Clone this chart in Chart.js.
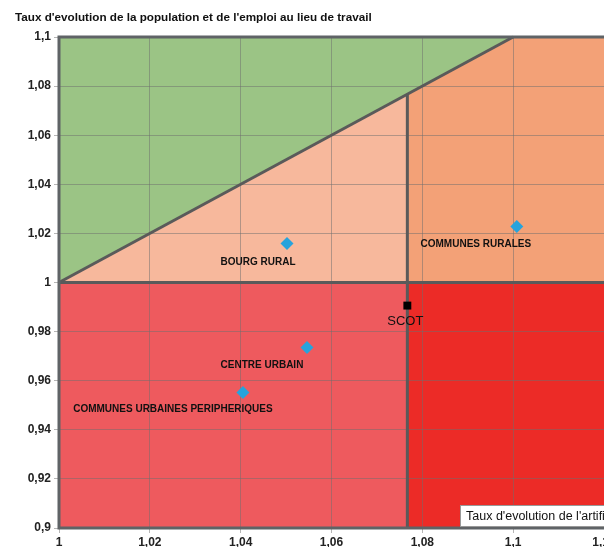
<!DOCTYPE html>
<html>
<head>
<meta charset="utf-8">
<script src="https://cdn.jsdelivr.net/npm/chart.js@4.4.0/dist/chart.umd.min.js"></script>
<style>
html, body { margin: 0; padding: 0; overflow: hidden; background: #fff; }
#wrap { width: 660px; height: 547px; position: relative; }
</style>
</head>
<body>
<div id="wrap"><canvas id="chart"></canvas></div>
<script>
// territoires et valeurs
const territoires = ["BOURG RURAL", "COMMUNES RURALES", "CENTRE URBAIN", "COMMUNES URBAINES PERIPHERIQUES"];
const tauxArtif = [1.0502, 1.1008, 1.0546, 1.0405];
const tauxPopEmploi = [1.0159, 1.0228, 0.9735, 0.9552];

const scotNom = ["SCOT"];
const scotArtif = [1.0767];
const scotPopEmploi = [0.9906];

const xTicks = [1, 1.02, 1.04, 1.06, 1.08, 1.1, 1.12];
const yTicks = [0.9, 0.92, 0.94, 0.96, 0.98, 1, 1.02, 1.04, 1.06, 1.08, 1.1];

const titreY = "Taux d'evolution de la population et de l'emploi au lieu de travail";
const titreX = "Taux d'evolution de l'artificialisation";

function fmt(v) {
    return String(Number(v.toFixed(2))).replace('.', ',');
}

const xMin = xTicks[0], xMax = xTicks[xTicks.length - 1];
const yMin = yTicks[0], yMax = yTicks[yTicks.length - 1];
const sx = scotArtif[0];

// zones de fond (en coordonnées de données)
const zones = [
    { color: '#9bc485', pts: [[1, 1], [1, yMax], [yMax, yMax]] },
    { color: '#f7b89c', pts: [[1, 1], [sx, sx], [sx, 1]] },
    { color: '#f3a177', pts: [[sx, 1], [sx, sx], [yMax, yMax], [xMax, yMax], [xMax, 1]] },
    { color: '#ee5a5e', pts: [[xMin, yMin], [xMin, 1], [sx, 1], [sx, yMin]] },
    { color: '#ec2b27', pts: [[sx, yMin], [sx, 1], [xMax, 1], [xMax, yMin]] }
];
const separations = [
    [[xMin, 1], [xMax, 1]],
    [[1, 1], [yMax, yMax]],
    [[sx, yMin], [sx, sx]]
];

const fondPlugin = {
    id: 'fond',
    beforeDraw(chart) {
        const { ctx, chartArea, scales: { x, y } } = chart;
        ctx.save();
        ctx.beginPath();
        ctx.rect(chartArea.left, chartArea.top, chartArea.width, chartArea.height);
        ctx.clip();
        zones.forEach(z => {
            ctx.beginPath();
            z.pts.forEach((p, i) => {
                const px = x.getPixelForValue(p[0]), py = y.getPixelForValue(p[1]);
                if (i === 0) ctx.moveTo(px, py); else ctx.lineTo(px, py);
            });
            ctx.closePath();
            ctx.fillStyle = z.color;
            ctx.fill();
        });
        ctx.restore();
    },
    beforeDatasetsDraw(chart) {
        const { ctx, chartArea: a, scales: { x, y } } = chart;
        ctx.save();
        ctx.strokeStyle = '#5a5a5a';
        ctx.lineWidth = 3;
        separations.forEach(s => {
            ctx.beginPath();
            ctx.moveTo(x.getPixelForValue(s[0][0]), y.getPixelForValue(s[0][1]));
            ctx.lineTo(x.getPixelForValue(s[1][0]), y.getPixelForValue(s[1][1]));
            ctx.stroke();
        });
        // cadre : gauche, haut, bas
        ctx.strokeStyle = '#5f6366';
        ctx.beginPath();
        ctx.moveTo(a.right + 2, a.top);
        ctx.lineTo(a.left, a.top);
        ctx.lineTo(a.left, a.bottom);
        ctx.lineTo(a.right + 2, a.bottom);
        ctx.stroke();
        ctx.restore();
    },
    afterDatasetsDraw(chart) {
        const { ctx } = chart;
        ctx.save();
        ctx.fillStyle = '#111';
        ctx.textAlign = 'center';
        ctx.textBaseline = 'middle';
        // décalage des étiquettes par rapport au point
        const decal = [[-29, 19], [-41, 18], [-45, 18], [-70, 17]];
        ctx.font = 'bold 10px "Liberation Sans", Arial, sans-serif';
        chart.getDatasetMeta(0).data.forEach((pt, i) => {
            ctx.fillText(territoires[i], pt.x + decal[i][0], pt.y + decal[i][1]);
        });
        ctx.font = '13px "Liberation Sans", Arial, sans-serif';
        chart.getDatasetMeta(1).data.forEach((pt, i) => {
            ctx.fillText(scotNom[i], pt.x - 2, pt.y + 16);
        });
        ctx.restore();
    },
    afterDraw(chart) {
        const { ctx, chartArea } = chart;
        ctx.save();
        ctx.fillStyle = '#111';
        ctx.textBaseline = 'middle';
        ctx.font = 'bold 11.7px "Liberation Sans", Arial, sans-serif';
        ctx.fillText(titreY, 15, 18);
        // boîte du titre de l'axe x
        const bx = chartArea.right - 144, by = chartArea.bottom - 23;
        ctx.fillStyle = '#fff';
        ctx.fillRect(bx, by, 200, 21);
        ctx.strokeStyle = '#999';
        ctx.lineWidth = 1;
        ctx.strokeRect(bx + 0.5, by + 0.5, 200, 21);
        ctx.fillStyle = '#111';
        ctx.font = '12.5px "Liberation Sans", Arial, sans-serif';
        ctx.fillText(titreX, bx + 6, by + 12);
        ctx.restore();
    }
};

const tickFont = { family: '"Liberation Sans", Arial, sans-serif', size: 12, weight: 'bold' };

new Chart(document.getElementById('chart'), {
    type: 'scatter',
    data: {
        datasets: [{
            label: 'Territoires',
            data: tauxArtif.map((v, i) => ({ x: v, y: tauxPopEmploi[i] })),
            pointStyle: 'rectRot',
            pointRadius: 6.5,
            backgroundColor: '#27a3dc',
            borderColor: '#27a3dc',
            borderWidth: 0
        }, {
            label: 'SCOT',
            data: scotArtif.map((v, i) => ({ x: v, y: scotPopEmploi[i] })),
            pointStyle: 'rect',
            pointRadius: 5.6,
            backgroundColor: '#000',
            borderColor: '#000',
            borderWidth: 0
        }]
    },
    options: {
        responsive: true,
        maintainAspectRatio: false,
        animation: false,
        layout: { padding: { left: 0, top: 37, right: 56, bottom: 0 } },
        plugins: {
            legend: { display: false },
            tooltip: { enabled: false }
        },
        scales: {
            x: {
                type: 'linear',
                min: xMin,
                max: xMax,
                afterBuildTicks: s => { s.ticks = xTicks.map(v => ({ value: v })); },
                afterFit: s => { s.height = 19; },
                border: { display: false },
                grid: { color: 'rgba(110,110,110,0.5)', lineWidth: 1, tickLength: 5 },
                ticks: { callback: v => fmt(v), font: tickFont, color: '#222', padding: 2, maxRotation: 0 }
            },
            y: {
                type: 'linear',
                min: yMin,
                max: yMax,
                afterBuildTicks: s => { s.ticks = yTicks.map(v => ({ value: v })); },
                afterFit: s => { s.width = 59; },
                border: { display: false },
                grid: { color: 'rgba(110,110,110,0.5)', lineWidth: 1, tickLength: 5 },
                ticks: { callback: v => fmt(v), font: tickFont, color: '#222', padding: 3 }
            }
        }
    },
    plugins: [fondPlugin]
});
</script>
</body>
</html>
